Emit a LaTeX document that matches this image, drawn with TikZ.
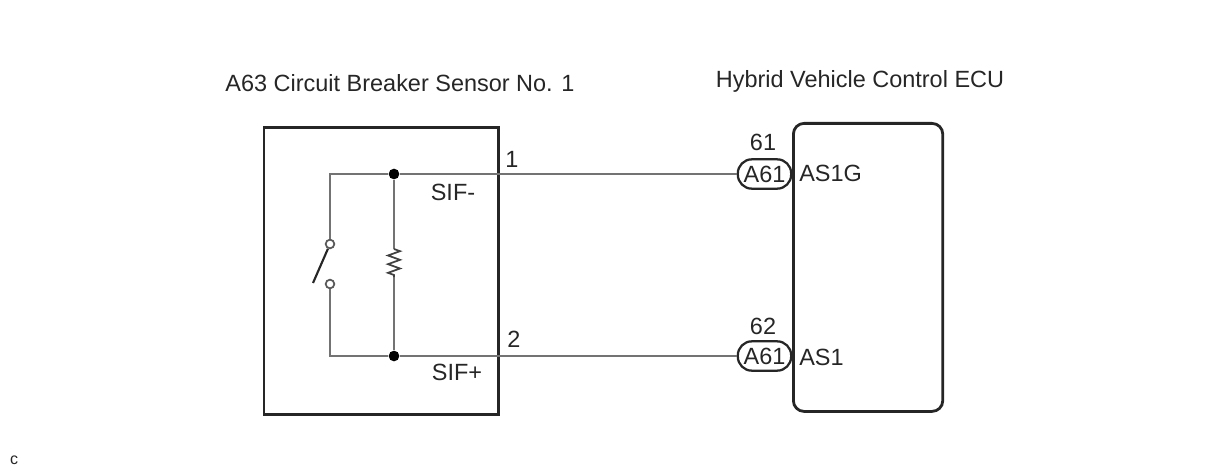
\documentclass[tikz,border=0pt]{standalone}
\usepackage{fontspec}
\setmainfont{Liberation Sans}
\usetikzlibrary{decorations.pathmorphing}
\tikzset{
  x=0.75pt,y=-0.75pt,
  box/.style={draw=black!85,line width=2.1pt,inner sep=0pt,anchor=north west},
  wire/.style={draw=black!55,line width=1.9pt},
  lbl/.style={font=\fontsize{17.6pt}{19pt}\selectfont,text=black!85,inner sep=0pt},
  pill/.style={draw=black!85,line width=1.7pt,rounded corners=10.5pt,minimum width=40pt,minimum height=22pt,inner sep=0pt,fill=white,font=\fontsize{17.6pt}{19pt}\selectfont,text=black!85},
  junction/.style={circle,fill=black,draw=none,minimum size=8pt,inner sep=0pt},
  terminal/.style={circle,fill=white,draw=black!65,line width=1.3pt,minimum size=6.5pt,inner sep=0pt},
}
\begin{document}
\begin{tikzpicture}
\useasboundingbox (0,0) rectangle (1210,474);
\node[box,minimum width=176pt,minimum height=215pt] (sensor) at (262.5,126.5) {};
\node[box,rounded corners=8pt,minimum width=112pt,minimum height=216pt] (ecu) at (792,122) {};
\node[lbl] (t1) at (400,83) {A63 Circuit Breaker Sensor No. 1};
\node[lbl] (t2) at (860,81) {Hybrid Vehicle Control ECU};
\node[junction] (j1) at (394,174) {};
\node[junction] (j2) at (394,356) {};
\node[pill] (p1) at (764.5,174) {A61};
\node[pill] (p2) at (764.5,356) {A61};
\coordinate (c1) at (330,174);
\coordinate (c2) at (330,356);
\node[terminal] (s1) at (330,244) {};
\node[terminal] (s2) at (330,284) {};
\coordinate (b1) at (313,283);
\coordinate (r1) at (394,249);
\coordinate (r2) at (394,277);
\draw[wire] (j1) -- (p1);
\draw[wire] (j2) -- (p2);
\draw[wire] (j1) -- (c1) -- (s1);
\draw[wire] (j2) -- (c2) -- (s2);
\draw[wire] (j1) -- (r1);
\draw[wire] (r2) -- (j2);
\draw[draw=black!75,line width=1.3pt,line join=miter,decorate,decoration={zigzag,segment length=6.5pt,amplitude=4.5pt,pre length=0pt,post length=0pt}] (r1) -- (r2);
\draw[draw=black!85,line width=1.6pt] (s1) -- (b1);
\node[lbl] (n1) at (512,159) {1};
\node[lbl] (n2) at (514,339) {2};
\node[lbl] (sm) at (453,192) {SIF-};
\node[lbl] (sp) at (457,372) {SIF+};
\node[lbl] (a) at (763,142) {61};
\node[lbl] (b) at (763,326) {62};
\node[lbl,anchor=west] (as1g) at (799,173) {AS1G};
\node[lbl,anchor=west] (as1) at (799,357) {AS1};
\node[font=\fontsize{12pt}{14pt}\selectfont,text=black!85,inner sep=0pt] (c) at (14,460) {c};
\end{tikzpicture}
\end{document}
